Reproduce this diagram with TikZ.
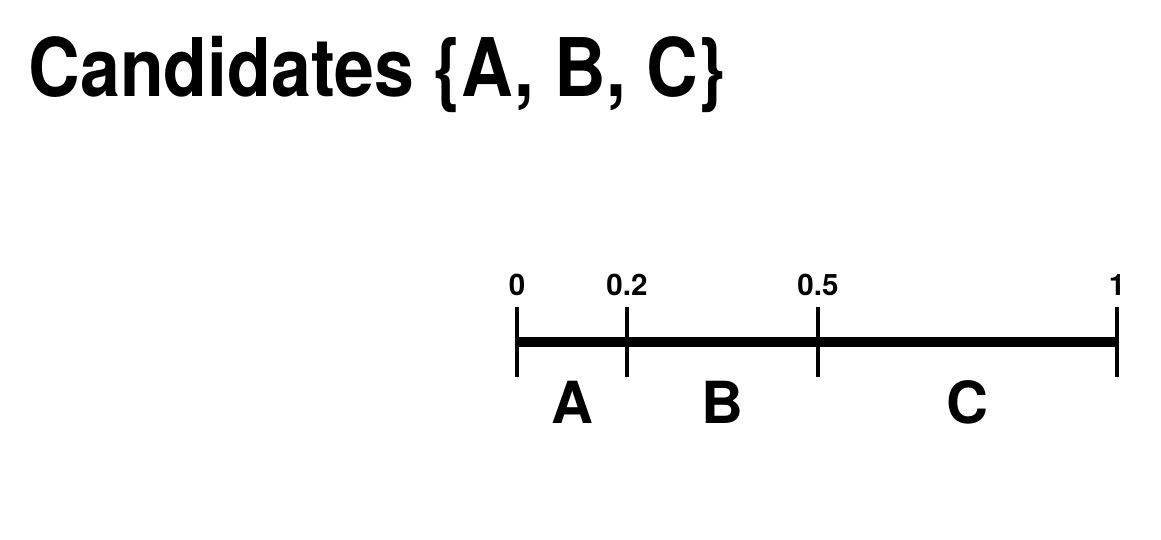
\documentclass[tikz,border=0pt]{standalone}
\usepackage{fontspec}
\setmainfont{TeX Gyre Heros}
\usetikzlibrary{positioning}

\begin{document}
\begin{tikzpicture}[
    x=0.01cm, y=-0.01cm,
    ticklbl/.style={anchor=base, inner sep=0, font=\bfseries\fontsize{8.4}{9}\selectfont},
    seglbl/.style={anchor=base, inner sep=0, font=\bfseries\fontsize{16.5}{19}\selectfont},
    tickmark/.style={line width=1.4pt},
    axis/.style={line width=2.8pt}
]
\useasboundingbox (0,0) rectangle (1161,539);
\node[anchor=base west, inner sep=0, xscale=0.885, transform shape, font=\bfseries\fontsize{23}{27}\selectfont] (title) at (28,96) {Candidates \{A, B, C\}};

% ticks and values
\foreach \x/\val/\nm in {517/0/p0, 627/0.2/p2, 818/0.5/p5, 1117/1/p10} {
    \coordinate (\nm) at (\x,342);
    \coordinate (\nm top) at (\x,307);
    \coordinate (\nm bot) at (\x,377);
    \draw[tickmark] (\nm top) -- (\nm bot);
    \node[ticklbl] (\nm lbl) at (\x,295) {\val};
}
\draw[axis] (p0) -- (p10);

% segments
\node[seglbl] (segA) at (572,423) {A};
\node[seglbl] (segB) at (722,423) {B};
\node[seglbl] (segC) at (967,423) {C};
\end{tikzpicture}
\end{document}
